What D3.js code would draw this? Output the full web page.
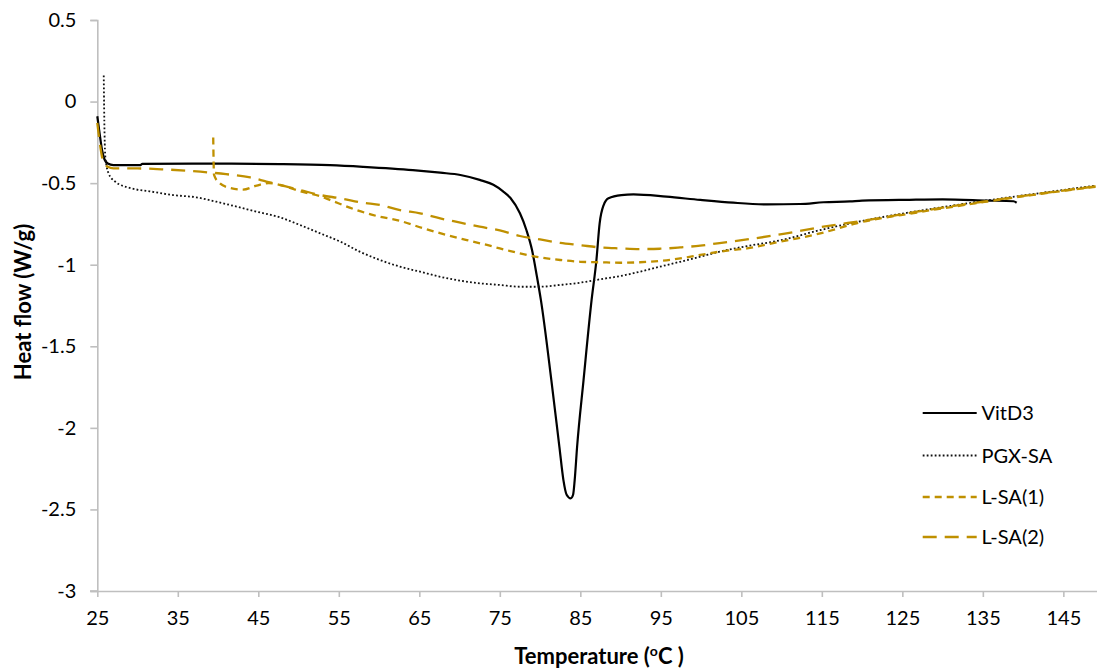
<!DOCTYPE html>
<html>
<head>
<meta charset="utf-8">
<script src="https://cdn.jsdelivr.net/npm/d3@7"></script>
<style>
html,body{margin:0;padding:0;background:#fff;}
svg{display:block;}
text{font-family:Lato,"Open Sans",sans-serif;fill:#000;}
</style>
</head>
<body>
<svg id="chart" width="1097" height="669"></svg>
<script>
// ---- data ----
const xTicks = [25,35,45,55,65,75,85,95,105,115,125,135,145];
const yTicks = [0.5,0,-0.5,-1,-1.5,-2,-2.5,-3];
const seriesNames = ["VitD3","PGX-SA","L-SA(1)","L-SA(2)"];

const vitD3 = [[25.0,-0.09],[25.3,-0.2],[25.6,-0.3],[25.9,-0.355],[26.3,-0.38],[27.0,-0.39],[30.3,-0.39],[30.6,-0.382],[40,-0.38],[47.7,-0.383],[53.9,-0.39],[58.0,-0.40],[64.2,-0.42],[67.6,-0.436],[70.1,-0.45],[72.5,-0.48],[74.2,-0.51],[75.4,-0.55],[76.3,-0.59],[77.5,-0.685],[78.3,-0.787],[79.0,-0.91],[79.6,-1.07],[80.1,-1.216],[81.4,-1.707],[82.4,-2.116],[82.9,-2.32],[83.3,-2.41],[83.8,-2.432],[84.1,-2.41],[84.3,-2.32],[84.6,-2.116],[85.4,-1.707],[86.4,-1.216],[87.0,-0.971],[87.4,-0.746],[87.9,-0.634],[88.5,-0.593],[90.1,-0.573],[91.6,-0.569],[95.7,-0.583],[99.9,-0.603],[104,-0.62],[108.2,-0.63],[112.3,-0.628],[115.2,-0.617],[118.5,-0.612],[120,-0.607],[125.9,-0.602],[130,-0.6],[135.6,-0.607],[138.8,-0.611],[139.2,-0.62]];

const pgxSA = [[25.8,0.16],[25.9,-0.2],[26.0,-0.34],[26.4,-0.44],[27.2,-0.49],[29.1,-0.53],[31.5,-0.55],[34.4,-0.573],[37.3,-0.587],[39.8,-0.614],[42.3,-0.644],[44.8,-0.675],[47.7,-0.71],[50.2,-0.757],[52.7,-0.808],[55.2,-0.859],[57.6,-0.92],[60.1,-0.971],[62.6,-1.012],[65.1,-1.043],[67.6,-1.074],[70.1,-1.098],[72.5,-1.114],[75,-1.124],[77.5,-1.135],[80,-1.135],[82.5,-1.124],[85,-1.11],[87.4,-1.09],[90,-1.069],[92.4,-1.043],[94.9,-1.012],[97.4,-0.982],[99.9,-0.951],[102.3,-0.92],[105.8,-0.885],[109.4,-0.855],[115.2,-0.783],[121,-0.722],[126.8,-0.672],[135,-0.61],[143.3,-0.553],[149,-0.515]];

const lsa1 = [[39.4,-0.22],[39.5,-0.45],[40.2,-0.5],[41.5,-0.53],[43.1,-0.54],[44.8,-0.515],[46.3,-0.5],[48,-0.515],[50.2,-0.55],[52.7,-0.58],[53.9,-0.603],[57.2,-0.665],[60.1,-0.706],[62.2,-0.726],[65.5,-0.777],[68.4,-0.818],[70.9,-0.849],[73.4,-0.879],[75,-0.9],[77.5,-0.93],[80,-0.955],[82.5,-0.971],[85,-0.982],[87.4,-0.985],[90,-0.988],[92.4,-0.985],[94.9,-0.977],[97.4,-0.961],[99.9,-0.94],[102.3,-0.92],[105.7,-0.9],[109.8,-0.859],[114.8,-0.808],[119.3,-0.746],[126.8,-0.68],[135,-0.617],[143.3,-0.558],[149,-0.522]];

const lsa2 = [[25.0,-0.13],[25.3,-0.25],[25.7,-0.36],[26.3,-0.4],[27,-0.41],[30,-0.41],[33,-0.415],[37.8,-0.43],[41,-0.445],[44,-0.465],[46,-0.49],[47.7,-0.511],[50.2,-0.542],[52.7,-0.573],[55.2,-0.593],[58,-0.62],[60.1,-0.634],[62.6,-0.665],[65.1,-0.685],[67.6,-0.716],[70.1,-0.742],[72.5,-0.767],[75,-0.79],[77.5,-0.824],[80,-0.845],[82.5,-0.866],[85,-0.88],[87.4,-0.894],[90,-0.9],[92.4,-0.904],[94.9,-0.902],[97.4,-0.894],[99.9,-0.883],[102.3,-0.867],[105.7,-0.845],[109.4,-0.818],[115.2,-0.767],[121,-0.724],[126.8,-0.675],[135,-0.614],[143.3,-0.556],[149,-0.52]];

// ---- chart ----
const svg = d3.select("#chart");
const x = d3.scaleLinear().domain([25,150]).range([97.3, 1103.6]);
const y = d3.scaleLinear().domain([-3,0.5]).range([591, 20]);
const axisColor = "#bfbfbf";
const gold = "#bf9000";
const tickFont = 20;

// y axis
const gy = svg.append("g").attr("transform","translate(97.3,0)")
  .call(d3.axisLeft(y).tickValues(yTicks).tickSize(7).tickPadding(14)
    .tickFormat(d => d === 0 ? "0" : String(d)));
gy.select(".domain").attr("stroke",axisColor).attr("stroke-width",1.6);
gy.selectAll(".tick line").attr("stroke",axisColor).attr("stroke-width",1.6);
gy.selectAll(".tick text").attr("font-size",tickFont).attr("font-family","Lato").attr("fill","#000");

// x axis
const gx = svg.append("g").attr("transform","translate(0,591)")
  .call(d3.axisBottom(x).tickValues(xTicks).tickSize(6).tickPadding(14).tickSizeOuter(0));
gx.select(".domain").attr("stroke",axisColor).attr("stroke-width",1.6);
gx.selectAll(".tick line").attr("stroke",axisColor).attr("stroke-width",1.6);
gx.selectAll(".tick text").attr("font-size",tickFont).attr("font-family","Lato").attr("fill","#000");

// extend x axis line leftwards to meet y tick
svg.append("line").attr("x1",90).attr("x2",97.3).attr("y1",591).attr("y2",591)
  .attr("stroke",axisColor).attr("stroke-width",1.6);

const line = d3.line().x(d=>x(d[0])).y(d=>y(d[1])).curve(d3.curveMonotoneX);

const styles = [
  {data: vitD3, color:"#000", width:2.2, dash:null},
  {data: pgxSA, color:"#111", width:1.8, dash:"1.8,2.2"},
  {data: lsa1, color:gold, width:2.3, dash:"7,5"},
  {data: lsa2, color:gold, width:2.3, dash:"14,8"}
];

const plot = svg.append("g");
styles.forEach(s => {
  plot.append("path").datum(s.data)
    .attr("d", line).attr("fill","none")
    .attr("stroke", s.color).attr("stroke-width", s.width)
    .attr("stroke-dasharray", s.dash)
    .attr("stroke-linejoin","round");
});

// legend
const legY = [413, 455.5, 497, 537];
const leg = svg.append("g");
styles.forEach((s,i) => {
  leg.append("line").attr("x1",922.7).attr("x2",976.7)
    .attr("y1",legY[i]).attr("y2",legY[i])
    .attr("stroke",s.color).attr("stroke-width",s.width)
    .attr("stroke-dasharray",s.dash);
  leg.append("text").attr("x",981.5).attr("y",legY[i]).attr("dy","0.36em")
    .attr("font-size",tickFont).text(seriesNames[i]);
});

// axis titles
const xt = svg.append("text").attr("x",599).attr("y",664).attr("text-anchor","middle")
  .attr("font-size",22).attr("font-weight","bold");
xt.append("tspan").text("Temperature (");
xt.append("tspan").attr("font-size",14).attr("dy",-8).text("o");
xt.append("tspan").attr("dy",8).text("C )");

svg.append("text").attr("transform","translate(31,302) rotate(-90)")
  .attr("text-anchor","middle").attr("font-size",22).attr("font-weight","bold")
  .text("Heat flow (W/g)");
</script>
</body>
</html>
